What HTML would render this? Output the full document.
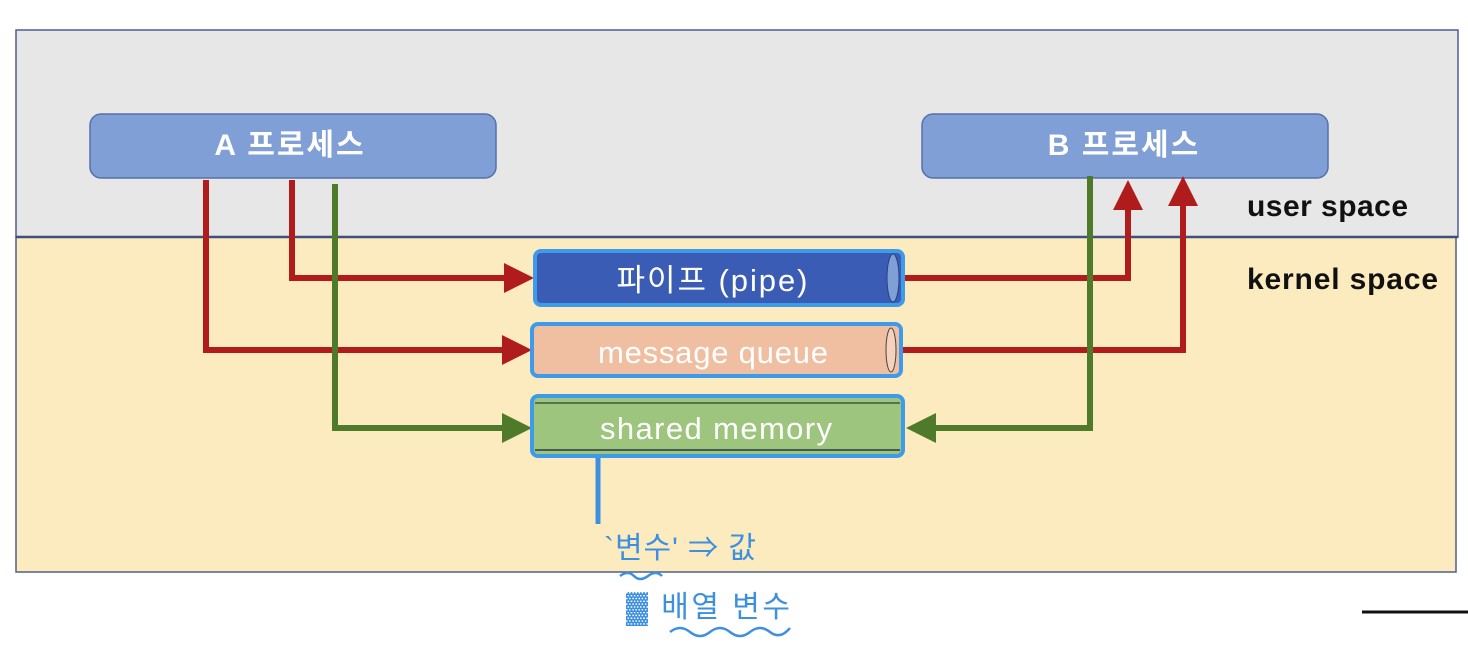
<!DOCTYPE html>
<html><head><meta charset="utf-8"><style>
html,body{margin:0;padding:0;background:#fff;width:1468px;height:652px;overflow:hidden}
svg text{font-family:"Liberation Sans","Noto Sans CJK KR",sans-serif}
</style></head><body>
<svg width="1468" height="652" viewBox="0 0 1468 652" xmlns="http://www.w3.org/2000/svg">
<defs>
<marker id="ar" markerWidth="5" markerHeight="5" refX="4" refY="2.5" orient="auto" markerUnits="strokeWidth"><path d="M0,0 L5,2.5 L0,5 z" fill="#b01c1c"/></marker>
<marker id="ag" markerWidth="5" markerHeight="5" refX="4" refY="2.5" orient="auto" markerUnits="strokeWidth"><path d="M0,0 L5,2.5 L0,5 z" fill="#4e7a2a"/></marker>
</defs>
<rect x="16" y="30" width="1442" height="207" fill="#e7e7e7" stroke="#4f5f8f" stroke-width="1.5"/>
<rect x="16" y="237" width="1440" height="335" fill="#fdebc0" stroke="#4f5f8f" stroke-width="1.5"/>
<line x1="16" y1="237" x2="1458" y2="237" stroke="#3f4f7f" stroke-width="2.5"/>
<rect x="90" y="114" width="406" height="64" rx="11" fill="#7f9fd6" stroke="#5670a8" stroke-width="1.5"/>
<text x="290" y="155" text-anchor="middle" font-size="30" font-weight="bold" fill="#fff" letter-spacing="2">A 프로세스</text>
<rect x="922" y="114" width="406" height="64" rx="11" fill="#7f9fd6" stroke="#5670a8" stroke-width="1.5"/>
<text x="1124" y="155" text-anchor="middle" font-size="30" font-weight="bold" fill="#fff" letter-spacing="2">B 프로세스</text>
<text x="1247" y="216" font-size="30" font-weight="bold" fill="#111" textLength="161">user space</text>
<text x="1247" y="289" font-size="30" font-weight="bold" fill="#111" textLength="191">kernel space</text>
<g fill="none" stroke-width="6">
<polyline points="206,180 206,350 526,350" stroke="#b01c1c" marker-end="url(#ar)"/>
<polyline points="292,180 292,278 528,278" stroke="#b01c1c" marker-end="url(#ar)"/>
<polyline points="335,184 335,428 526,428" stroke="#4e7a2a" marker-end="url(#ag)"/>
<polyline points="905,278 1128,278 1128,186" stroke="#b01c1c" marker-end="url(#ar)"/>
<polyline points="903,350 1183,350 1183,182" stroke="#b01c1c" marker-end="url(#ar)"/>
<polyline points="1090,176 1090,428 912,428" stroke="#4e7a2a" marker-end="url(#ag)"/>
</g>
<rect x="535" y="251" width="368" height="54" rx="6" fill="#3b5cb4" stroke="#3d9be9" stroke-width="4"/>
<ellipse cx="893" cy="278" rx="6" ry="24" fill="#7f9fd6" stroke="#2a3f80" stroke-width="1"/>
<text x="712" y="291" text-anchor="middle" font-size="31" fill="#fff" textLength="191">파이프 (pipe)</text>
<rect x="532" y="324" width="369" height="52" rx="6" fill="#f0bea0" stroke="#3d9be9" stroke-width="4"/>
<ellipse cx="891" cy="350" rx="5" ry="22" fill="#f6d2bc" stroke="#444" stroke-width="1"/>
<text x="713" y="363" text-anchor="middle" font-size="31" fill="#fff" textLength="230">message queue</text>
<rect x="532" y="396" width="371" height="60" rx="6" fill="#9dc57e" stroke="#3d9be9" stroke-width="4"/>
<line x1="535" y1="403" x2="900" y2="403" stroke="#3a5a40" stroke-width="1.5"/>
<line x1="535" y1="450" x2="900" y2="450" stroke="#2a3a40" stroke-width="1.5"/>
<text x="716" y="439" text-anchor="middle" font-size="31" fill="#fff" textLength="232">shared memory</text>
<line x1="598" y1="458" x2="598" y2="524" stroke="#3d8fe0" stroke-width="5"/>
<g fill="#3d8fe0" font-size="30">
<text x="604" y="558" textLength="152">`변수' ⇒ 값</text>
<text x="626" y="617" textLength="164">▓ 배열 변수</text>
</g>
<g fill="none" stroke="#3d8fe0" stroke-width="2.5">
<path d="M620,576 q8,-6 14,0 t14,0 t14,0"/>
<path d="M670,632 q10,-8 20,0 t20,0 t20,0 t20,0 t20,0 t20,-4"/>
</g>
<line x1="1362" y1="612" x2="1468" y2="612" stroke="#111" stroke-width="3"/>
</svg>
</body></html>
